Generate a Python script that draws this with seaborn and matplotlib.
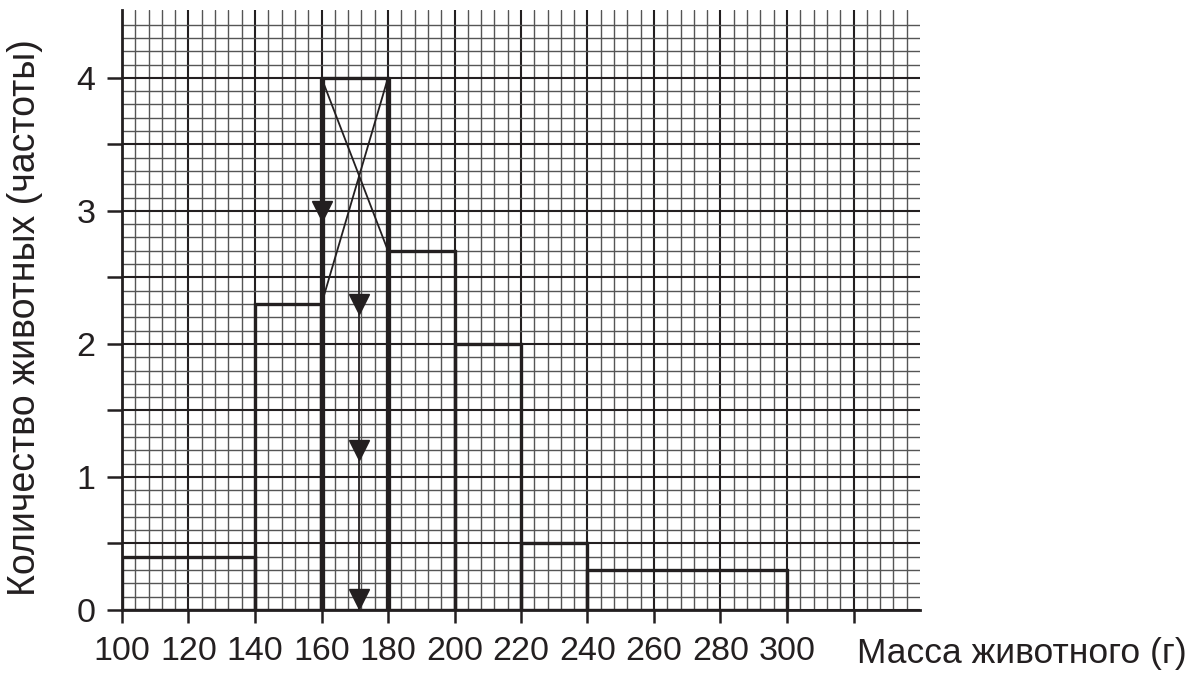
import numpy as np
import matplotlib
matplotlib.use("Agg")
import matplotlib.pyplot as plt
import seaborn as sns

# histogram of animal mass (frequencies), unequal bins
bin_edges = [100, 140, 160, 180, 200, 220, 240, 300]
bin_heights = [0.4, 2.3, 4.0, 2.7, 2.0, 0.5, 0.3]
bin_mids = [(a + b) / 2 for a, b in zip(bin_edges[:-1], bin_edges[1:])]

# modal class construction (cross lines) and arrows
modal_idx = 2
arrow_y_on_edge = [3.0]
arrow_y_on_mode = [2.3, 1.2, 0.08]

x_tick_vals = list(range(100, 321, 20))
x_tick_labels = [str(v) if v <= 300 else "" for v in x_tick_vals]
y_tick_vals = list(np.arange(0, 4.01, 0.5))
y_tick_labels = [str(int(v)) if v == int(v) else "" for v in y_tick_vals]

xlabel = "Масса животного (г)"
ylabel = "Количество животных (частоты)"

sns.set_style("white")
plt.rcParams["font.family"] = ["Liberation Sans", "DejaVu Sans"]

ink = "#231f20"
fig = plt.figure(figsize=(11.92, 6.73), dpi=100)
ax = fig.add_axes([122 / 1192, 63 / 673, 798 / 1192, 600 / 673])

sns.histplot(x=bin_mids, weights=bin_heights, bins=bin_edges, element="bars",
             fill=False, color=ink, linewidth=2.4, ax=ax, zorder=3)

# thicker sides of the modal bar
lo, hi = bin_edges[modal_idx], bin_edges[modal_idx + 1]
h_mode = bin_heights[modal_idx]
h_prev = bin_heights[modal_idx - 1]
h_next = bin_heights[modal_idx + 1]
ax.vlines([lo, hi], 0, h_mode, color=ink, lw=3.8, zorder=4)

# cross lines to find the mode
ax.plot([lo, hi], [h_mode, h_next], color=ink, lw=1.3, zorder=4)
ax.plot([hi, lo], [h_mode, h_prev], color=ink, lw=1.3, zorder=4)
t = (h_mode - h_prev) / ((h_mode - h_prev) + (h_mode - h_next))
x_mode = lo + t * (hi - lo)
y_mode = h_mode - t * (h_mode - h_next)
ax.plot([x_mode, x_mode], [y_mode, 0], color=ink, lw=1.3, zorder=4)

ax.plot([lo] * len(arrow_y_on_edge), arrow_y_on_edge, "v", color=ink, ms=15, zorder=5)
ax.plot([x_mode] * len(arrow_y_on_mode), arrow_y_on_mode, "v", color=ink, ms=15, zorder=5)

ax.set_xlim(100, 340)
ax.set_ylim(0, 4.51)

# graph paper grid
ax.set_xticks(x_tick_vals)
ax.set_xticklabels(x_tick_labels)
ax.set_xticks([v for v in range(104, 337, 4) if v % 20 != 0], minor=True)
ax.set_yticks(y_tick_vals)
ax.set_yticklabels(y_tick_labels)
ax.set_yticks([round(v, 1) for v in np.arange(0.1, 4.41, 0.1) if abs(v * 2 - round(v * 2)) > 1e-6], minor=True)
ax.grid(which="major", color=ink, lw=1.5)
ax.grid(which="minor", color="#555555", lw=1.0)
ax.set_axisbelow(True)

for s in ["top", "right"]:
    ax.spines[s].set_visible(False)
for s in ["left", "bottom"]:
    ax.spines[s].set_color(ink)
    ax.spines[s].set_linewidth(2)

ax.tick_params(which="major", direction="out", width=1.8, color=ink,
               labelsize=24.5, labelcolor=ink, left=True, bottom=True)
ax.tick_params(axis="x", which="major", length=9, pad=10)
ax.tick_params(axis="y", which="major", length=11, pad=8)
ax.tick_params(which="minor", length=0)

ax.set_xlabel(xlabel, fontsize=25.5, color=ink, ha="left", va="center")
ax.xaxis.set_label_coords((857 - 122) / 798, (610 - 653) / 600)
ax.set_ylabel(ylabel, fontsize=27, color=ink, ha="center", va="center")
ax.yaxis.set_label_coords((25 - 122) / 798, (610 - 318) / 600)

fig.savefig("out.png", dpi=100)
